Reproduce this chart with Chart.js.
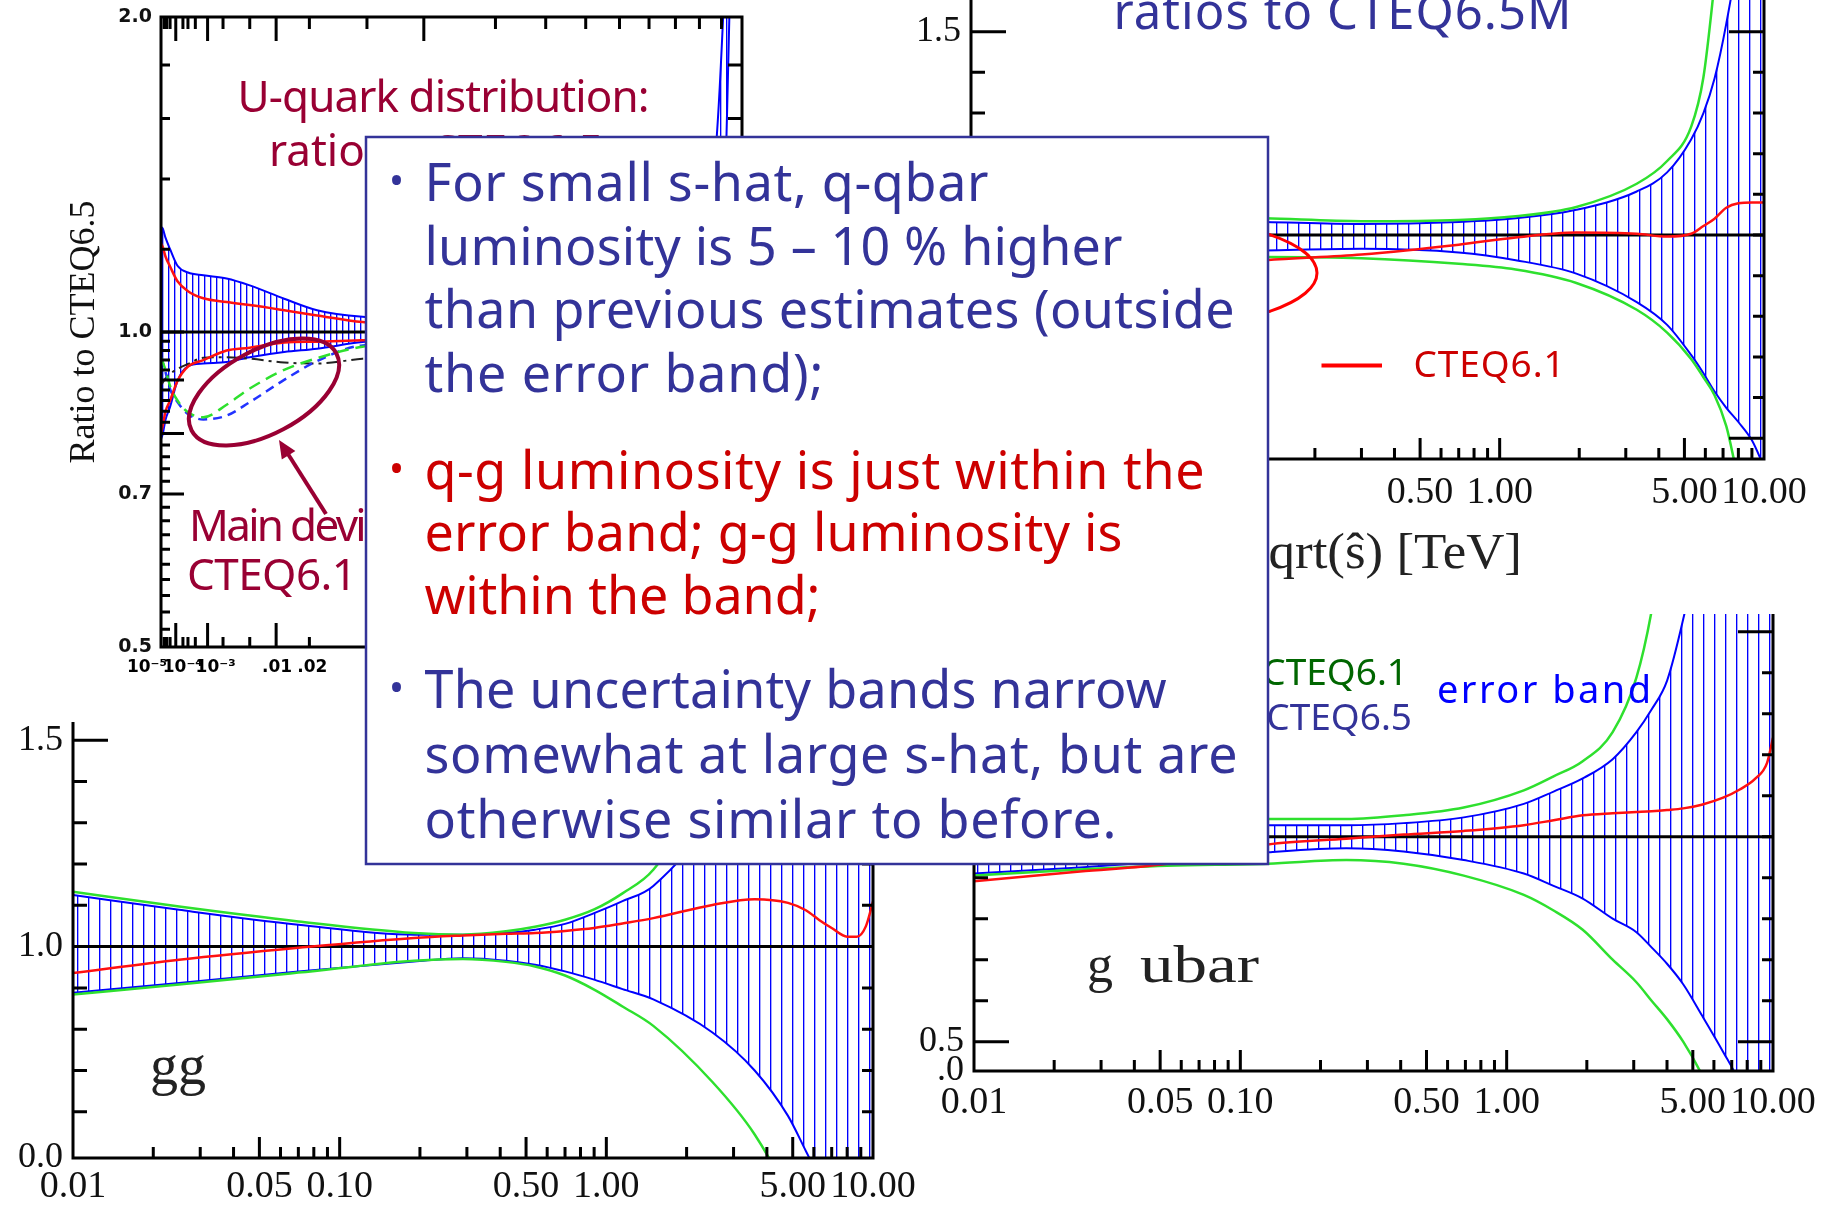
<!DOCTYPE html>
<html>
<head>
<meta charset="utf-8">
<script src="https://cdn.jsdelivr.net/npm/chart.js@4.4.1/dist/chart.umd.min.js"></script>
<style>
  html, body { margin: 0; padding: 0; background: #fff; }
  #page { position: relative; width: 1831px; height: 1208px; overflow: hidden; background: #fff; }
  .panel { position: absolute; }
  #overlay { position: absolute; left: 0; top: 0; pointer-events: none; }
</style>
</head>
<body>
<div id="page">
  <div class="panel" style="left:0;top:0"><canvas id="cUquark" width="760" height="700"></canvas></div>
  <div class="panel" style="left:880px;top:0"><canvas id="cQQ" width="951" height="560"></canvas></div>
  <div class="panel" style="left:0;top:700px"><canvas id="cGG" width="930" height="508"></canvas></div>
  <div class="panel" style="left:900px;top:600px"><canvas id="cGU" width="931" height="560"></canvas></div>

  <svg id="overlay" width="1831" height="1208" viewBox="0 0 1831 1208" xmlns="http://www.w3.org/2000/svg">
    <g font-family="Noto Sans">
      <!-- notes on the u-quark panel -->
      <text x="237.5" y="112" font-size="44" fill="#990033" textLength="412" lengthAdjust="spacing">U-quark distribution:</text>
      <text x="269" y="166" font-size="44" fill="#990033">ratio to CTEQ6.5</text>
      <text x="189" y="541" font-size="44" fill="#990033" textLength="368" lengthAdjust="spacing">Main deviation from</text>
      <text x="187" y="590" font-size="44" fill="#990033" textLength="170" lengthAdjust="spacing">CTEQ6.1</text>
      <ellipse cx="264" cy="392" rx="82" ry="42" transform="rotate(-28 264 392)" fill="none" stroke="#990033" stroke-width="4"/>
      <line x1="326" y1="514" x2="288" y2="454" stroke="#990033" stroke-width="4"/>
      <polygon points="279,440 295.4,450.9 281.8,459.5" fill="#990033"/>

      <!-- notes on the q-qbar panel -->
      <text x="1113.5" y="29" font-size="49" fill="#333399" textLength="458" lengthAdjust="spacing">ratios to CTEQ6.5M</text>
      <ellipse cx="1150" cy="273" rx="167" ry="55" fill="none" stroke="#ff0000" stroke-width="3"/>
      <line x1="1321.5" y1="365.5" x2="1382" y2="365.5" stroke="#ff0000" stroke-width="4"/>
      <text x="1413.6" y="377" font-size="37" fill="#cc0000" textLength="151" lengthAdjust="spacing">CTEQ6.1</text>
      <text x="1522" y="568" font-family="Liberation Serif" font-size="50" text-anchor="end" fill="#222" textLength="274" lengthAdjust="spacingAndGlyphs">sqrt(ŝ) [TeV]</text>

      <!-- gg panel -->
      <text x="150" y="1084" font-family="Liberation Serif" font-size="56" fill="#222">gg</text>

      <!-- g ubar panel -->
      <text x="1408" y="685" font-size="37" fill="#006600" text-anchor="end">CTEQ6.1</text>
      <text x="1412" y="730" font-size="37" fill="#333399" text-anchor="end">CTEQ6.5</text>
      <text x="1437" y="703" font-size="38" fill="#0000ff" textLength="214" lengthAdjust="spacing">error band</text>
      <text x="1087" y="982" font-family="Liberation Serif" font-size="52" fill="#222">g</text>
      <text x="1140" y="982" font-family="Liberation Serif" font-size="52" fill="#222" textLength="119" lengthAdjust="spacingAndGlyphs">ubar</text>

      <!-- summary box -->
      <rect x="366" y="137" width="902" height="727" fill="#fff" stroke="#333399" stroke-width="2.5"/>
      <g font-size="52" fill="#333399">
        <text x="389" y="195" font-size="40">•</text>
        <text x="424.5" y="201" textLength="564" lengthAdjust="spacing">For small s-hat, q-qbar</text>
        <text x="424.5" y="264.5" textLength="698" lengthAdjust="spacing">luminosity is 5 – 10 % higher</text>
        <text x="424.5" y="328" textLength="810" lengthAdjust="spacing">than previous estimates (outside</text>
        <text x="424.5" y="392" textLength="399" lengthAdjust="spacing">the error band);</text>
      </g>
      <g font-size="52" fill="#cc0000">
        <text x="389" y="482.5" font-size="40">•</text>
        <text x="424.5" y="488.5" textLength="780" lengthAdjust="spacing">q-g luminosity is just within the</text>
        <text x="424.5" y="550.5" textLength="698" lengthAdjust="spacing">error band; g-g luminosity is</text>
        <text x="424.5" y="613.5" textLength="396" lengthAdjust="spacing">within the band;</text>
      </g>
      <g font-size="52" fill="#333399">
        <text x="389" y="702" font-size="40">•</text>
        <text x="424.5" y="708" textLength="742" lengthAdjust="spacing">The uncertainty bands narrow</text>
        <text x="424.5" y="773" textLength="813" lengthAdjust="spacing">somewhat at large s-hat, but are</text>
        <text x="424.5" y="838" textLength="692" lengthAdjust="spacing">otherwise similar to before.</text>
      </g>
    </g>
  </svg>
</div>

<script>
// ---- U-quark panel: ratio to CTEQ6.5 vs momentum fraction x ----
const uqX           = [1e-5, 1.5e-5, 2.5e-5, 5e-5, 1.2e-4, 3e-4, 8e-4, 2.3e-3, 5e-3, 0.012, 0.023, 0.047, 0.1, 0.25, 0.5, 0.75, 0.87, 0.91, 0.94, 1.0];
const uqBandHi      = [1.26, 1.255, 1.23, 1.20, 1.157, 1.14, 1.133, 1.125, 1.108, 1.076, 1.049, 1.034, 1.03, 1.04, 1.08, 1.2, 1.47, 2.05, 3.0, 5.0];
const uqBandLo      = [0.79, 0.80, 0.825, 0.848, 0.898, 0.927, 0.933, 0.936, 0.946, 0.957, 0.964, 0.978, 0.985, 0.98, 0.96, 0.9, 0.85, 1.2, 2.1, 5.0];
const uqRedHi       = [1.215, 1.205, 1.18, 1.155, 1.118, 1.094, 1.077, 1.068, 1.061, 1.049, 1.037, 1.022, 1.015, 1.01, 1.0, 0.98, 0.95, 0.94, 0.93, 0.9];
const uqRedLo       = [0.80, 0.815, 0.84, 0.86, 0.898, 0.927, 0.94, 0.96, 0.966, 0.977, 0.979, 0.982, 0.985, 0.99, 0.98, 0.95, 0.92, 0.91, 0.9, 0.88];
const uqGreenDash   = [0.945, 0.935, 0.92, 0.888, 0.86, 0.838, 0.829, 0.852, 0.883, 0.92, 0.944, 0.968, 0.975, 0.98, 0.97, 0.95, 0.94, 0.94, 0.94, 0.94];
const uqBlueDash    = [0.945, 0.935, 0.915, 0.882, 0.857, 0.835, 0.825, 0.832, 0.857, 0.90, 0.938, 0.971, 0.975, 0.98, 0.97, 0.95, 0.94, 0.94, 0.94, 0.94];
const uqBlackDash   = [0.89, 0.895, 0.903, 0.912, 0.922, 0.932, 0.945, 0.946, 0.943, 0.935, 0.933, 0.943, 0.95, 0.955, 0.95, 0.94, 0.93, 0.93, 0.93, 0.93];
const uqXLabelVals  = [1e-5, 1e-4, 1e-3, 0.01, 0.02, 0.05, 0.1, 0.2, 0.5, 1];
const uqXLabels     = ['10⁻⁵', '10⁻⁴', '10⁻³', '.01', '.02', '.05', '.1', '.2', '.5', '1'];
const uqXMajor      = [1e-4, 1e-3, 0.01, 0.1];
const uqXMinor      = [2e-5, 3e-5, 5e-5, 2e-4, 3e-4, 5e-4, 2e-3, 5e-3, 0.02, 0.05, 0.2, 0.3, 0.4, 0.5, 0.6, 0.7, 0.8, 0.9];
const uqYLabelVals  = [0.5, 0.7, 1.0, 2.0];
const uqYLabels     = ['0.5', '0.7', '1.0', '2.0'];
const uqYMajor      = [0.7, 0.8, 0.9, 1.0];
const uqYMinor      = [0.52, 0.54, 0.56, 0.58, 0.6, 0.62, 0.64, 0.66, 0.68, 0.72, 0.74, 0.76, 0.78, 0.82, 0.84, 0.86, 0.88, 0.92, 0.94, 0.96, 0.98, 1.2, 1.4, 1.6, 1.8];

// ---- parton luminosity panels: ratio to CTEQ6.5M vs sqrt(s-hat) [TeV] ----
const qqX       = [0.01, 0.03, 0.13, 0.3, 0.7, 1.15, 1.95, 3.3, 4.3, 5.3, 5.9, 6.5, 7.2, 8, 9, 10];
const qqBandHi  = [1.045, 1.04, 1.032, 1.027, 1.032, 1.041, 1.062, 1.107, 1.154, 1.235, 1.30, 1.385, 1.52, 1.7, 2.0, 2.4];
const qqBandLo  = [0.95, 0.955, 0.962, 0.966, 0.957, 0.938, 0.905, 0.835, 0.779, 0.705, 0.66, 0.615, 0.575, 0.54, 0.495, 0.43];
const qqGreenHi = [1.06, 1.05, 1.041, 1.034, 1.037, 1.046, 1.069, 1.126, 1.182, 1.266, 1.388, 1.62, 1.9, 2.3, 2.8, 3.5];
const qqGreenLo = [0.93, 0.935, 0.946, 0.943, 0.929, 0.915, 0.882, 0.816, 0.76, 0.695, 0.65, 0.606, 0.53, 0.40, 0.3, 0.2];
const qqRed     = [0.88, 0.90, 0.938, 0.952, 0.976, 0.994, 1.006, 1.003, 0.996, 1.003, 1.022, 1.04, 1.067, 1.078, 1.08, 1.08];

const ggX       = [0.01, 0.025, 0.07, 0.19, 0.29, 0.42, 0.54, 0.7, 0.9, 1.15, 1.5, 2.5, 3.6, 4.8, 5.6, 6.3, 7, 8, 8.7, 9.4, 10];
const ggBandHi  = [1.125, 1.089, 1.053, 1.029, 1.029, 1.033, 1.041, 1.055, 1.081, 1.11, 1.147, 1.33, 1.6, 1.9, 2.1, 2.3, 2.5, 2.8, 3.0, 3.2, 3.4];
const ggBandLo  = [0.888, 0.912, 0.94, 0.964, 0.972, 0.966, 0.956, 0.94, 0.92, 0.897, 0.872, 0.792, 0.70, 0.59, 0.505, 0.44, 0.39, 0.3, 0.25, 0.2, 0.15];
const ggGreenHi = [1.133, 1.097, 1.061, 1.033, 1.029, 1.037, 1.048, 1.065, 1.09, 1.129, 1.186, 1.42, 1.75, 2.2, 2.5, 2.8, 3.1, 3.5, 3.8, 4.1, 4.4];
const ggGreenLo = [0.884, 0.908, 0.937, 0.966, 0.97, 0.963, 0.952, 0.93, 0.896, 0.855, 0.808, 0.672, 0.545, 0.4, 0.3, 0.2, 0.1, 0, -0.1, -0.2, -0.3];
const ggRed     = [0.936, 0.968, 0.997, 1.021, 1.027, 1.031, 1.033, 1.038, 1.045, 1.056, 1.069, 1.101, 1.115, 1.106, 1.088, 1.064, 1.045, 1.024, 1.024, 1.049, 1.109];

const guX       = [0.01, 0.025, 0.053, 0.127, 0.25, 0.41, 0.69, 1.16, 1.5, 1.93, 2.5, 3.07, 3.5, 4.0, 4.6, 5.4, 6.5, 7.5, 8.6, 9.5, 10];
const guBandHi  = [1.05, 1.045, 1.04, 1.028, 1.028, 1.033, 1.047, 1.08, 1.11, 1.142, 1.189, 1.255, 1.31, 1.38, 1.53, 1.75, 2.1, 2.4, 2.8, 3.1, 3.3];
const guBandLo  = [0.91, 0.925, 0.94, 0.962, 0.972, 0.964, 0.943, 0.91, 0.88, 0.849, 0.80, 0.767, 0.73, 0.69, 0.64, 0.565, 0.475, 0.4, 0.3, 0.2, 0.15];
const guGreenHi = [1.06, 1.055, 1.05, 1.043, 1.043, 1.052, 1.071, 1.113, 1.147, 1.184, 1.255, 1.388, 1.55, 1.8, 2.1, 2.5, 3, 3.5, 4, 4.5, 5];
const guGreenLo = [0.905, 0.92, 0.929, 0.934, 0.943, 0.934, 0.905, 0.858, 0.82, 0.773, 0.70, 0.645, 0.60, 0.555, 0.5, 0.42, 0.3, 0.2, 0.1, 0.0, -0.05];
const guRed     = [0.891, 0.915, 0.934, 0.981, 0.995, 1.005, 1.014, 1.028, 1.04, 1.052, 1.057, 1.06, 1.062, 1.065, 1.069, 1.078, 1.095, 1.115, 1.142, 1.18, 1.241];

const refRatio      = 1.0;
const lumiXLabelVals = [0.01, 0.05, 0.1, 0.5, 1, 5, 10];
const lumiXLabels    = ['0.01', '0.05', '0.10', '0.50', '1.00', '5.00', '10.00'];
const lumiXMajor     = [0.05, 0.1, 0.5, 1, 5];
const lumiXMinor     = [0.02, 0.03, 0.04, 0.06, 0.07, 0.08, 0.09, 0.2, 0.3, 0.4, 0.6, 0.7, 0.8, 0.9, 2, 3, 4, 6, 7, 8, 9];
const lumiYMajor     = [0.5, 1.5];
const lumiYMinor     = [0.6, 0.7, 0.8, 0.9, 1.0, 1.1, 1.2, 1.3, 1.4];

const BLUE = '#0000ff', GREEN = '#2ee02e', RED = '#ff1010';

// inward ticks and frame lines, placed with the chart's own scales
const frameTicks = {
  id: 'frameTicks',
  afterDatasetsDraw(chart, args, o) {
    const {ctx, chartArea: a} = chart;
    const xs = chart.scales.x, ys = chart.scales.y;
    const xp = v => xs.getPixelForValue(o.xMap ? o.xMap(v) : v);
    ctx.save();
    ctx.strokeStyle = '#000';
    ctx.lineWidth = o.width;
    ctx.beginPath();
    const h = o.width / 2;
    if (o.sides.includes('left'))   { ctx.moveTo(a.left, a.top); ctx.lineTo(a.left, a.bottom + h); }
    if (o.sides.includes('right'))  { ctx.moveTo(a.right, a.top); ctx.lineTo(a.right, a.bottom + h); }
    if (o.sides.includes('bottom')) { ctx.moveTo(a.left - h, a.bottom); ctx.lineTo(a.right + h, a.bottom); }
    if (o.sides.includes('top'))    { ctx.moveTo(a.left - h, a.top); ctx.lineTo(a.right + h, a.top); }
    (o.bottom || []).forEach(([v, len]) => { const p = xp(v); ctx.moveTo(p, a.bottom); ctx.lineTo(p, a.bottom - len); });
    (o.top || []).forEach(([v, len]) => { const p = xp(v); ctx.moveTo(p, a.top); ctx.lineTo(p, a.top + len); });
    (o.left || []).forEach(([v, len]) => { const p = ys.getPixelForValue(v); ctx.moveTo(a.left, p); ctx.lineTo(a.left + len, p); });
    (o.right || []).forEach(([v, len]) => { const p = ys.getPixelForValue(v); ctx.moveTo(a.right, p); ctx.lineTo(a.right - len, p); });
    ctx.stroke();
    if (o.labels) {
      ctx.fillStyle = '#000';
      ctx.font = o.labelFont;
      ctx.textAlign = 'center';
      ctx.textBaseline = 'middle';
      o.labels.forEach(([v, text, dx]) => ctx.fillText(text, xp(v) + dx, a.bottom + o.labelDy));
    }
    ctx.restore();
  }
};

function hatchPattern(ctx, step) {
  const c = document.createElement('canvas');
  c.width = step; c.height = 8;
  const g = c.getContext('2d');
  g.fillStyle = BLUE;
  g.fillRect(0, 0, 1, 8);
  g.fillStyle = 'rgba(0,0,255,0.35)';
  g.fillRect(1, 0, 1, 8);
  return ctx.createPattern(c, 'repeat');
}

function curve(xs, ys, color, width, extra) {
  return Object.assign({
    data: xs.map((x, i) => ({x: x, y: ys[i]})),
    borderColor: color,
    borderWidth: width,
    pointRadius: 0,
    fill: false,
    cubicInterpolationMode: 'monotone'
  }, extra || {});
}

function fixedTicks(vals) {
  return scale => { scale.ticks = vals.map(v => ({value: v})); };
}

const xTickFont = {family: 'Liberation Serif', size: 38};
const yTickFont = {family: 'Liberation Serif', size: 36};

// one luminosity ratio panel
function lumiChart(id, s) {
  const ctx = document.getElementById(id).getContext('2d');
  const pat = hatchPattern(ctx, 11);
  const x = s.x;
  const inY = v => v >= s.yMin && v <= s.yMax;
  return new Chart(ctx, {
    type: 'line',
    data: {
      datasets: [
        curve(x, s.red, RED, 2.5),
        curve(x, s.greenHi, GREEN, 2.5),
        curve(x, s.greenLo, GREEN, 2.5),
        curve([x[0], x[x.length - 1]], [refRatio, refRatio], '#000', 3),
        curve(x, s.hi, BLUE, 2, {fill: {target: '+1', above: pat, below: pat}}),
        curve(x, s.lo, BLUE, 2)
      ]
    },
    options: {
      responsive: false,
      animation: false,
      events: [],
      layout: {padding: s.pad},
      plugins: {
        legend: {display: false},
        tooltip: {enabled: false},
        frameTicks: {
          width: 3,
          sides: ['left', 'bottom', 'right'],
          bottom: lumiXMinor.map(v => [v, 11]).concat(lumiXMajor.map(v => [v, 21])),
          left: s.yMajor.filter(inY).map(v => [v, 35]).concat(s.yMinor.filter(inY).map(v => [v, 14])),
          right: s.yMajor.filter(inY).map(v => [v, 35]).concat(s.yMinor.filter(inY).map(v => [v, 11]))
        }
      },
      scales: {
        x: {
          type: 'logarithmic', min: 0.01, max: 10, bounds: 'data',
          grid: {display: false, drawTicks: false}, border: {display: false},
          afterBuildTicks: fixedTicks(lumiXLabelVals),
          afterFit: sc => { sc.height = s.xH; sc.paddingLeft = 0; sc.paddingRight = 0; },
          ticks: {autoSkip: false, maxRotation: 0, minRotation: 0, padding: s.xPad, color: '#111',
                  font: xTickFont, callback: (v, i) => lumiXLabels[i]}
        },
        y: {
          type: 'linear', min: s.yMin, max: s.yMax, bounds: 'data',
          grid: {display: false, drawTicks: false}, border: {display: false},
          afterBuildTicks: fixedTicks(s.yLabelVals),
          afterFit: sc => { sc.width = s.yW; sc.paddingTop = 0; sc.paddingBottom = 0; },
          ticks: {autoSkip: false, padding: 10, color: '#111', font: yTickFont,
                  callback: (v, i) => s.yLabels[i]}
        }
      }
    },
    plugins: [frameTicks]
  });
}

// the u-quark panel, on a cube-root x axis
function uquarkChart() {
  const ctx = document.getElementById('cUquark').getContext('2d');
  const pat = hatchPattern(ctx, 6);
  const tx = uqX.map(Math.cbrt);
  return new Chart(ctx, {
    type: 'line',
    data: {
      datasets: [
        curve(tx, uqRedHi, RED, 2.5),
        curve(tx, uqRedLo, RED, 2.5),
        curve(tx, uqGreenDash, GREEN, 2.5, {borderDash: [12, 7]}),
        curve(tx, uqBlueDash, '#2233ff', 2.5, {borderDash: [9, 6]}),
        curve(tx, uqBlackDash, '#222', 2, {borderDash: [12, 5, 3, 5]}),
        curve([tx[0], tx[tx.length - 1]], [refRatio, refRatio], '#000', 3),
        curve(tx, uqBandHi, BLUE, 2, {fill: {target: '+1', above: pat, below: pat}}),
        curve(tx, uqBandLo, BLUE, 2)
      ]
    },
    options: {
      responsive: false,
      animation: false,
      events: [],
      layout: {padding: {left: 0, top: 17, right: 18, bottom: 0}},
      plugins: {
        legend: {display: false},
        tooltip: {enabled: false},
        frameTicks: {
          width: 3,
          sides: ['left', 'bottom', 'right', 'top'],
          xMap: Math.cbrt,
          bottom: uqXMajor.map(v => [v, 24]).concat(uqXMinor.map(v => [v, 10])),
          top: uqXMajor.map(v => [v, 24]).concat(uqXMinor.map(v => [v, 12])),
          left: uqYMajor.map(v => [v, 23]).concat(uqYMinor.map(v => [v, 9])),
          right: uqYMajor.map(v => [v, 23]).concat(uqYMinor.map(v => [v, 14])),
          labels: uqXLabelVals.map((v, i) => [v, uqXLabels[i], [-14, 7, 8, 1, 3, 12, 0, 0, 0, 0][i]]),
          labelFont: 'bold 17px "DejaVu Sans"',
          labelDy: 21
        }
      },
      scales: {
        x: {
          type: 'linear', min: Math.cbrt(1e-5), max: 1, bounds: 'data',
          grid: {display: false, drawTicks: false}, border: {display: false},
          afterFit: sc => { sc.height = 53; sc.paddingLeft = 0; sc.paddingRight = 0; },
          ticks: {display: false}
        },
        y: {
          type: 'logarithmic', min: 0.5, max: 2.0, bounds: 'data',
          grid: {display: false, drawTicks: false}, border: {display: false},
          afterBuildTicks: fixedTicks(uqYLabelVals),
          afterFit: sc => { sc.width = 161; sc.paddingTop = 0; sc.paddingBottom = 0; },
          title: {display: true, text: 'Ratio to CTEQ6.5', color: '#111',
                  font: {family: 'Liberation Serif', size: 36}, padding: {top: 63, bottom: 0}},
          ticks: {autoSkip: false, padding: 9, color: '#111',
                  font: {family: 'DejaVu Sans', size: 19, weight: 'bold'},
                  callback: (v, i) => uqYLabels[i]}
        }
      }
    },
    plugins: [frameTicks]
  });
}

uquarkChart();

lumiChart('cQQ', {
  x: qqX, hi: qqBandHi, lo: qqBandLo, greenHi: qqGreenHi, greenLo: qqGreenLo, red: qqRed,
  yMin: 0.449, yMax: 1.578, yMajor: lumiYMajor, yMinor: lumiYMinor,
  yLabelVals: [0.5, 1.0, 1.5], yLabels: ['0.5', '1.0', '1.5'],
  pad: {left: 0, top: 0, right: 67, bottom: 0}, yW: 91, xH: 101, xPad: 11
});

lumiChart('cGG', {
  x: ggX, hi: ggBandHi, lo: ggBandLo, greenHi: ggGreenHi, greenLo: ggGreenLo, red: ggRed,
  yMin: 0.488, yMax: 1.544, yMajor: [1.5], yMinor: lumiYMinor,
  yLabelVals: [0.488, 1.0, 1.5], yLabels: ['0.0', '1.0', '1.5'],
  pad: {left: 0, top: 22, right: 57, bottom: 0}, yW: 73, xH: 50, xPad: 6
});

lumiChart('cGU', {
  x: guX, hi: guBandHi, lo: guBandLo, greenHi: guGreenHi, greenLo: guGreenLo, red: guRed,
  yMin: 0.4285, yMax: 1.543, yMajor: lumiYMajor, yMinor: lumiYMinor,
  yLabelVals: [0.4285, 0.5, 1.0, 1.5], yLabels: ['.0', '0.5', '1.0', '1.5'],
  pad: {left: 0, top: 14, right: 58, bottom: 0}, yW: 74, xH: 89, xPad: 9
});
</script>
</body>
</html>
